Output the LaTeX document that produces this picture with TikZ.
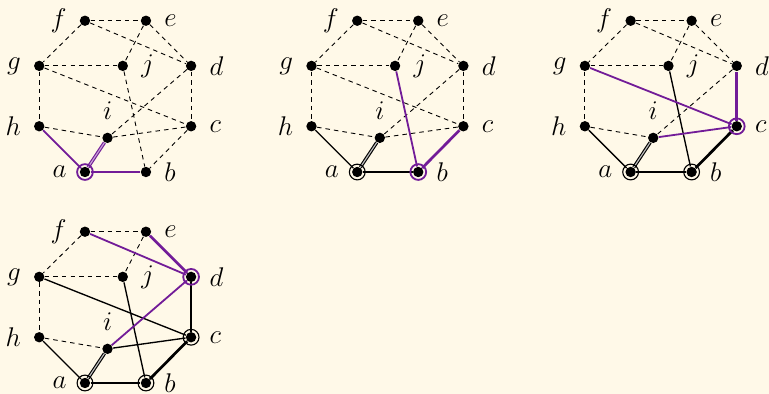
\documentclass[tikz,border=0pt]{standalone}
\usepackage{xcolor}
\usepackage{tikz}
\usetikzlibrary{positioning}
\definecolor{bgcream}{HTML}{FFF9E8}
\definecolor{mpurp}{HTML}{721C98}
\tikzstyle{vtx} = [circle, fill=black, inner sep=0pt, minimum size=4.6pt]
\tikzstyle{ring} = [circle, draw, inner sep=0pt, minimum size=7pt, line width=0.5pt]
\tikzstyle{candring} = [ring, draw=mpurp, line width=0.8pt]
\tikzstyle{nonedge} = [draw, dash pattern=on 2pt off 1.8pt, line width=0.4pt]
\tikzstyle{solidedge} = [draw, line width=0.6pt]
\tikzstyle{treeedge} = [draw, line width=1.2pt]
\tikzstyle{dbledge} = [draw, double=gray!50, double distance=0.5pt, line width=0.5pt]
\tikzstyle{cand} = [draw=mpurp, line width=0.8pt]
\tikzstyle{candtree} = [draw=mpurp, line width=1.2pt]
\tikzstyle{canddbl} = [draw=mpurp, double=mpurp!40, double distance=0.5pt, line width=0.5pt]
% the ten vertices of one panel
\newcommand{\octgraph}{%
    \node[vtx, label=left:$a$] (a) at (0, 0) {};
    \node[vtx, label=right:$b$] (b) at (1, 0) {};
    \node[vtx, label=right:$c$] (c) at (1.74, 0.75) {};
    \node[vtx, label=right:$d$] (d) at (1.74, 1.74) {};
    \node[vtx, label=right:$e$] (e) at (1, 2.48) {};
    \node[vtx, label=left:$f$] (f) at (0, 2.48) {};
    \node[vtx, label=left:$g$] (g) at (-0.75, 1.74) {};
    \node[vtx, label=left:$h$] (h) at (-0.75, 0.75) {};
    \node[vtx, label=above:$i$] (i) at (0.37, 0.56) {};
    \node[vtx, label=right:$j$] (j) at (0.62, 1.74) {};
}

\begin{document}
\begin{tikzpicture}[x=0.9516cm, y=0.9516cm, label distance=5.5pt,
    every label/.style={inner sep=0pt, font=\fontsize{11.5}{13}\selectfont}]
    \fill[bgcream] (-1.393, -3.639) rectangle (11.213, 2.82);
    % step 1
    \begin{scope}[name prefix=p1-]
        \octgraph
        \foreach \u/\v in {f/e, f/g, f/d, e/d, e/j, g/j, g/c, g/h, j/b, d/i, d/c, h/i, i/c, c/b}
            \path[nonedge] (\u) -- (\v);
        \path[cand] (a) -- (h);
        \path[canddbl] (a) -- (i);
        \path[candtree] (a) -- (b);
        \node[candring] at (a) (ra) {};
    \end{scope}
    % step 2
    \begin{scope}[shift={(4.464, 0)}, name prefix=p2-]
        \octgraph
        \foreach \u/\v in {f/e, f/g, f/d, e/d, e/j, g/j, g/c, g/h, d/i, d/c, h/i, i/c}
            \path[nonedge] (\u) -- (\v);
        \path[solidedge] (a) -- (h);
        \path[dbledge] (a) -- (i);
        \path[treeedge] (a) -- (b);
        \path[cand] (b) -- (j);
        \path[candtree] (b) -- (c);
        \node[ring] at (a) (ra) {};
        \node[candring] at (b) (rb) {};
    \end{scope}
    % step 3
    \begin{scope}[shift={(8.946, 0)}, name prefix=p3-]
        \octgraph
        \foreach \u/\v in {f/e, f/g, f/d, e/d, e/j, g/j, g/h, d/i, h/i}
            \path[nonedge] (\u) -- (\v);
        \path[solidedge] (a) -- (h);
        \path[dbledge] (a) -- (i);
        \path[treeedge] (a) -- (b);
        \path[treeedge] (b) -- (c);
        \path[solidedge] (b) -- (j);
        \path[cand] (c) -- (g);
        \path[cand] (c) -- (i);
        \path[candtree] (c) -- (d);
        \node[ring] at (a) (ra) {};
        \node[ring] at (b) (rb) {};
        \node[candring] at (c) (rc) {};
    \end{scope}
    % step 4
    \begin{scope}[shift={(0, -3.459)}, name prefix=p4-]
        \octgraph
        \foreach \u/\v in {f/e, f/g, e/j, g/j, g/h, h/i}
            \path[nonedge] (\u) -- (\v);
        \path[solidedge] (a) -- (h);
        \path[dbledge] (a) -- (i);
        \path[treeedge] (a) -- (b);
        \path[treeedge] (b) -- (c);
        \path[treeedge] (c) -- (d);
        \path[solidedge] (b) -- (j);
        \path[solidedge] (c) -- (g);
        \path[solidedge] (c) -- (i);
        \path[cand] (d) -- (f);
        \path[cand] (d) -- (i);
        \path[candtree] (d) -- (e);
        \node[ring] at (a) (ra) {};
        \node[ring] at (b) (rb) {};
        \node[ring] at (c) (rc) {};
        \node[candring] at (d) (rd) {};
    \end{scope}
\end{tikzpicture}
\end{document}
